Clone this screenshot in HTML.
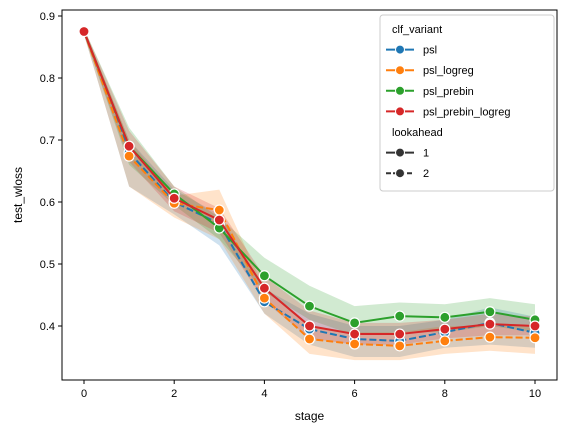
<!DOCTYPE html>
<html><head><meta charset="utf-8"><style>
body{margin:0;background:#fff}
svg{font-family:"Liberation Sans",sans-serif;display:block}
</style></head><body>
<svg id="chart" width="567" height="432" viewBox="0 0 567 432">
<g id="bands"></g><g id="lines"></g><g id="axes"></g><g id="legend"></g>
</svg>
<script>
const stages=[0,1,2,3,4,5,6,7,8,9,10];
const seriesNames=["psl","psl_logreg","psl_prebin","psl_prebin_logreg"];
const pslVals=[0.875,0.680,0.600,0.565,0.439,0.395,0.379,0.376,0.390,0.405,0.389];
const pslUpper=[0.88,0.70,0.62,0.58,0.46,0.42,0.40,0.40,0.41,0.43,0.415];
const pslLower=[0.87,0.625,0.58,0.53,0.42,0.37,0.35,0.35,0.365,0.37,0.365];
const logregVals=[0.875,0.674,0.598,0.587,0.445,0.379,0.371,0.368,0.376,0.382,0.381];
const logregUpper=[0.88,0.70,0.61,0.62,0.46,0.40,0.39,0.39,0.40,0.40,0.40];
const logregLower=[0.87,0.625,0.575,0.54,0.42,0.355,0.345,0.345,0.355,0.36,0.355];
const prebinVals=[0.875,0.690,0.613,0.558,0.481,0.432,0.405,0.416,0.414,0.423,0.410];
const prebinUpper=[0.88,0.72,0.625,0.575,0.51,0.465,0.432,0.438,0.435,0.445,0.435];
const prebinLower=[0.87,0.66,0.595,0.54,0.455,0.41,0.385,0.39,0.39,0.40,0.39];
const prebinLogVals=[0.875,0.690,0.606,0.571,0.461,0.400,0.387,0.387,0.395,0.403,0.400];
const prebinLogUpper=[0.88,0.715,0.625,0.59,0.48,0.425,0.405,0.405,0.41,0.42,0.415];
const prebinLogLower=[0.87,0.665,0.585,0.55,0.44,0.38,0.37,0.37,0.38,0.385,0.385];
const xTicks=[0,2,4,6,8,10];
const yTicks=[0.4,0.5,0.6,0.7,0.8,0.9];

const NS="http://www.w3.org/2000/svg";
const X0=62,X1=557,Y0=10,Y1=380;
const xs=v=>84+v*45.1;
const ys=v=>16+(0.9-v)*620;
function mk(t,a,p){const e=document.createElementNS(NS,t);for(const k in a)e.setAttribute(k,a[k]);p.appendChild(e);return e;}
const series=[
 {name:"psl",v:pslVals,u:pslUpper,l:pslLower,c:"#1f77b4",dash:true},
 {name:"psl_logreg",v:logregVals,u:logregUpper,l:logregLower,c:"#ff7f0e",dash:true},
 {name:"psl_prebin",v:prebinVals,u:prebinUpper,l:prebinLower,c:"#2ca02c",dash:false},
 {name:"psl_prebin_logreg",v:prebinLogVals,u:prebinLogUpper,l:prebinLogLower,c:"#d62728",dash:false}
];
const bands=document.getElementById('bands'),lines=document.getElementById('lines');
series.forEach(s=>{
 let pts=stages.map((st,i)=>xs(st)+","+ys(s.u[i]));
 pts=pts.concat(stages.slice().reverse().map((st,j)=>{const i=stages.length-1-j;return xs(st)+","+ys(s.l[i]);}));
 const b=mk('polygon',{points:pts.join(" "),fill:s.c,"fill-opacity":0.22},bands);
 
 
});
series.forEach(s=>{
 const l=mk('polyline',{points:stages.map((st,i)=>xs(st)+","+ys(s.v[i])).join(" "),fill:"none",stroke:s.c,"stroke-width":2,"stroke-dasharray":s.dash?"7,3":"none"},lines);
 
 
 stages.forEach((st,i)=>{
  const c=mk('circle',{cx:xs(st),cy:ys(s.v[i]),r:5,fill:s.c,stroke:"#fff","stroke-width":1.2},lines);
  
  
 });
});
const ax=document.getElementById('axes');
const fr=mk('rect',{x:X0,y:Y0,width:X1-X0,height:Y1-Y0,fill:"none",stroke:"#000","stroke-width":1},ax);


xTicks.forEach(t=>{
 mk('line',{x1:xs(t),x2:xs(t),y1:Y1,y2:Y1+4,stroke:"#000"},ax);
 const tx=mk('text',{x:xs(t),y:Y1+17,"font-size":11,"text-anchor":"middle"},ax);tx.textContent=t;
 
 
});
yTicks.forEach(t=>{
 mk('line',{x1:X0-4,x2:X0,y1:ys(t),y2:ys(t),stroke:"#000"},ax);
 const tx=mk('text',{x:X0-7,y:ys(t)+4,"font-size":11,"text-anchor":"end"},ax);tx.textContent=t.toFixed(1);
 
 
});
const xt=mk('text',{x:(X0+X1)/2,y:420,"font-size":12,"text-anchor":"middle"},ax);xt.textContent="stage";


const yt=mk('text',{x:22,y:195,"font-size":12,"text-anchor":"middle",transform:"rotate(-90 22 195)"},ax);yt.textContent="test_wloss";


const lg=document.getElementById('legend');


mk('rect',{x:380,y:15,width:174,height:176,rx:3,fill:"#fff","fill-opacity":0.8,stroke:"#ccc"},lg);
const entries=[["clf_variant",null,false],["psl","#1f77b4",false],["psl_logreg","#ff7f0e",false],["psl_prebin","#2ca02c",false],["psl_prebin_logreg","#d62728",false],["lookahead",null,false],["1","#333",false],["2","#333",true]];
entries.forEach((e,i)=>{
 const y=33+i*20.6;
 if(e[1]){
  mk('line',{x1:386,x2:414,y1:y-4,y2:y-4,stroke:e[1],"stroke-width":2,"stroke-dasharray":e[2]?"5,2":"none"},lg);
  mk('circle',{cx:400,cy:y-4,r:4.5,fill:e[1],stroke:"#fff","stroke-width":1},lg);
 }
 const t=mk('text',{x:e[1]?423:392,y:y,"font-size":11},lg);t.textContent=e[0];
 
 
});
</script>
</body></html>
